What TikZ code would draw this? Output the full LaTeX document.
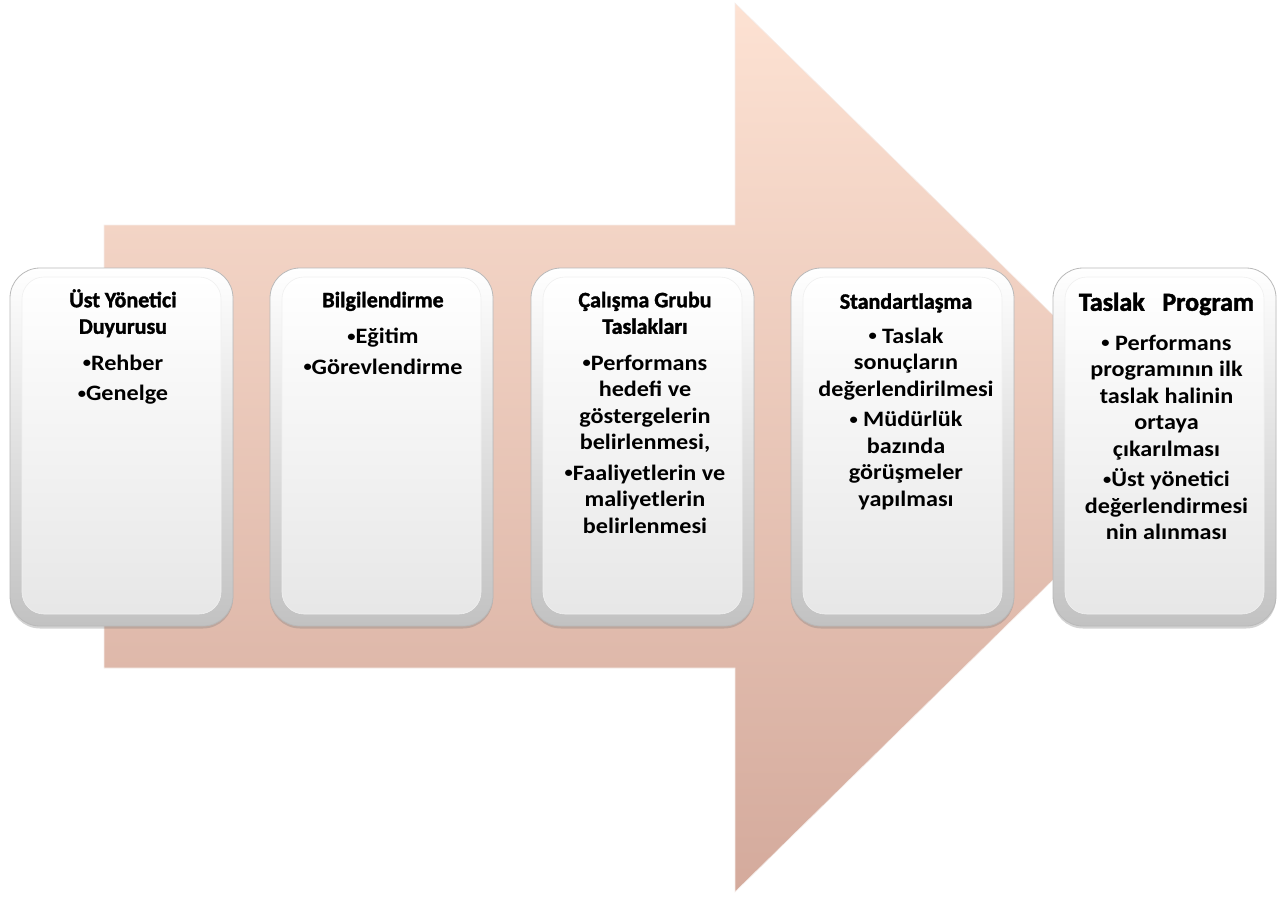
\documentclass[tikz,border=0pt]{standalone}
\usepackage{fontspec}
\setmainfont{Carlito}
\newfontfamily\headf{Carlito}[FakeBold=1.6]
\newfontfamily\bulf{Carlito}[FakeStretch=1.1]
\usetikzlibrary{shadows}
\definecolor{arrowtop}{RGB}{253,226,211}
\definecolor{arrowbot}{RGB}{212,170,156}
\tikzset{
  boxouter/.style={rounded corners=30pt, minimum width=223pt, minimum height=358pt,
    top color=white, bottom color=gray!48, draw=gray!55, line width=0.8pt,
    drop shadow={opacity=0.35, shadow xshift=0pt, shadow yshift=-2.5pt}},
  boxinner/.style={rounded corners=22pt, minimum width=199pt, minimum height=337pt,
    top color=white, bottom color=gray!19, draw=gray!12, line width=0.6pt},
  txt/.style={anchor=north, align=center, inner sep=0pt,
    font=\bfseries\fontsize{22}{26.5}\selectfont},
}
\newcommand{\hd}[1]{{\headf\bfseries\fontsize{22}{26.5}\selectfont #1}}
\newcommand{\bu}{\raisebox{0.12em}{\fontsize{15}{15}\selectfont •}}
\newcommand{\bl}[1]{{\bulf\bfseries\fontsize{22}{26.5}\selectfont #1}}
\begin{document}
\begin{tikzpicture}[x=1pt,y=-1pt]
\useasboundingbox (0,0) rectangle (1288,897);
% big arrow
\path[top color=arrowtop, bottom color=arrowbot, draw=white!80!arrowbot, line width=0.6pt]
  (104,225) -- (735,225) -- (735,3) -- (1188,447.5) -- (735,892) -- (735,668) -- (104,668) -- cycle;
% boxes
\foreach \i/\cx in {1/121.5,2/381.5,3/642.5,4/902.5,5/1164.5}{
  \node[boxouter] (b\i) at (\cx,447) {};
  \node[boxinner] (f\i) at ([yshift=1.5pt]b\i.center) {};
}
% texts
\node[txt] (t1) at (123,288.5) {\strut\hd{Üst Yönetici}\\\hd{Duyurusu}\\[10pt]\bl{\bu Rehber}\\[4pt]\bl{\bu Genelge}};
\node[txt] (t2) at (383,288.5) {\strut\hd{Bilgilendirme}\\[10pt]\bl{\bu Eğitim}\\[4pt]\bl{\bu Görevlendirme}};
\node[txt] (t3) at (645,288.5) {\strut\hd{Çalışma Grubu}\\\hd{Taslakları}\\[10pt]\bl{\bu Performans}\\\bl{hedefi ve}\\\bl{göstergelerin}\\\bl{belirlenmesi,}\\[4pt]\bl{\bu Faaliyetlerin ve}\\\bl{maliyetlerin}\\\bl{belirlenmesi}};
\node[txt] (t4) at (906,290) {\strut\hd{Standartlaşma}\\[8pt]\bl{\bu\ Taslak}\\\bl{sonuçların}\\\bl{değerlendirilmesi}\\[4pt]\bl{\bu\ Müdürlük}\\\bl{bazında}\\\bl{görüşmeler}\\\bl{yapılması}};
\node[txt] (t5) at (1166.5,292) {\strut{\headf\bfseries\fontsize{26}{26.5}\selectfont Taslak\ \ \ Program}\\[13pt]\bl{\bu\ Performans}\\\bl{programının ilk}\\\bl{taslak halinin}\\\bl{ortaya}\\\bl{çıkarılması}\\[4pt]\bl{\bu Üst yönetici}\\\bl{değerlendirmesi}\\\bl{nin alınması}};
\end{tikzpicture}
\end{document}
